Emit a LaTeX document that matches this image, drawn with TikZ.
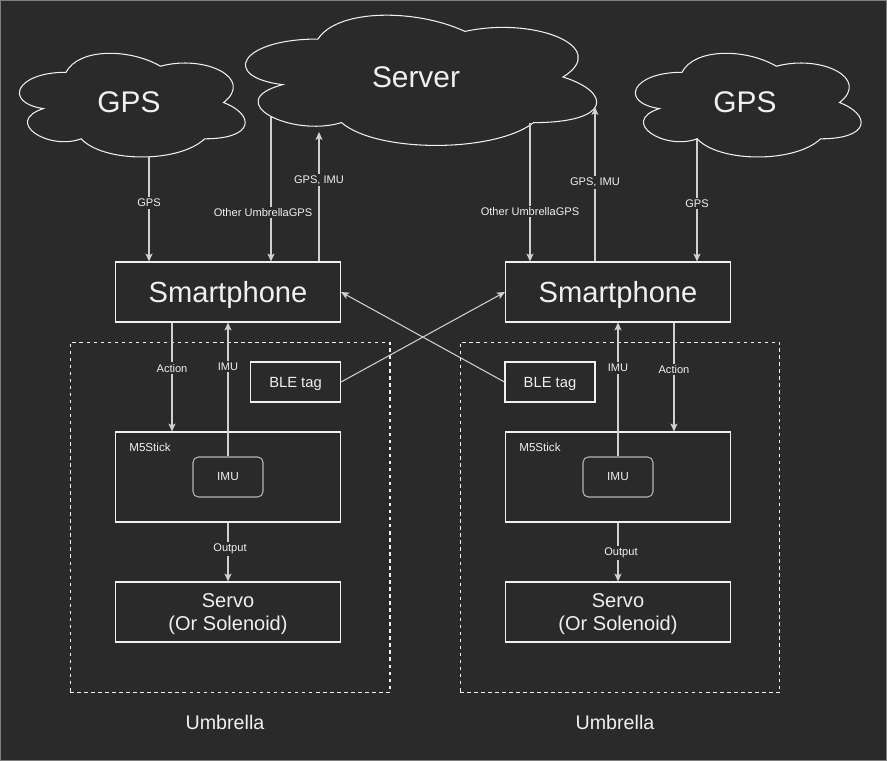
\documentclass[tikz,border=0pt]{standalone}
\usepackage{fontspec}
\setmainfont{Liberation Sans}
\usetikzlibrary{arrows.meta,positioning}

\definecolor{bgdark}{HTML}{2A2A2A}
\definecolor{inkwhite}{HTML}{F0F0F0}
\definecolor{linegray}{HTML}{D0D0D0}
\definecolor{imugray}{HTML}{B4B4B4}
\definecolor{framegray}{HTML}{808080}

\tikzset{
  box/.style={draw=inkwhite, line width=0.6pt, text=inkwhite, minimum width=4.5cm, minimum height=1.2cm},
  phonebox/.style={box, text depth=0pt, font=\fontsize{16.6}{19}\selectfont},
  stickbox/.style={box, minimum height=1.8cm},
  servobox/.style={box, align=center, text depth=0pt, font=\fontsize{11.4}{13}\selectfont},
  tagbox/.style={box, minimum width=1.8cm, minimum height=0.8cm, text depth=0pt, font=\fontsize{8.4}{10}\selectfont},
  imubox/.style={draw=imugray, line width=0.6pt, rounded corners=3pt, text=inkwhite, minimum width=1.4cm, minimum height=0.8cm, font=\fontsize{6.7}{8}\selectfont},
  umbbox/.style={draw=inkwhite, line width=0.6pt, dash pattern=on 2pt off 2pt, minimum width=6.4cm, minimum height=7cm},
  cloudline/.style={draw=inkwhite, line width=0.6pt},
  cloudtext/.style={text=inkwhite, font=\fontsize{17}{20}\selectfont},
  plain/.style={text=inkwhite, font=\fontsize{11.2}{13}\selectfont},
  small/.style={text=inkwhite, font=\fontsize{6.6}{8}\selectfont, inner sep=0pt},
  conn/.style={draw=linegray, line width=0.6pt, -{Stealth[length=4.5pt,width=4pt,inset=1pt]}},
  lbl/.style={fill=bgdark, text=inkwhite, font=\fontsize{6.3}{7}\selectfont, inner sep=1pt}
}

% drawio-like cloud: x, y, width, height (pixels)
\newcommand{\puffcloud}[4]{%
  \draw[cloudline] ({#1+0.25*#3},{#2+0.25*#4})
    .. controls ({#1+0.05*#3},{#2+0.25*#4}) and ({#1},{#2+0.5*#4}) .. ({#1+0.16*#3},{#2+0.55*#4})
    .. controls ({#1},{#2+0.66*#4}) and ({#1+0.18*#3},{#2+0.9*#4}) .. ({#1+0.31*#3},{#2+0.8*#4})
    .. controls ({#1+0.4*#3},{#2+#4}) and ({#1+0.7*#3},{#2+#4}) .. ({#1+0.8*#3},{#2+0.8*#4})
    .. controls ({#1+#3},{#2+0.8*#4}) and ({#1+#3},{#2+0.6*#4}) .. ({#1+0.875*#3},{#2+0.5*#4})
    .. controls ({#1+#3},{#2+0.3*#4}) and ({#1+0.8*#3},{#2+0.1*#4}) .. ({#1+0.625*#3},{#2+0.2*#4})
    .. controls ({#1+0.5*#3},{#2+0.05*#4}) and ({#1+0.3*#3},{#2+0.05*#4}) .. cycle;}

\begin{document}
\begin{tikzpicture}[x=0.02cm, y=-0.02cm]
  \fill[bgdark] (0,0) rectangle (887,761);
  \draw[framegray, line width=0.6pt] (0.5,0.5) rectangle (886.5,760.5);
  \useasboundingbox (0,0) rectangle (887,761);

  % clouds
  \puffcloud{3}{42}{252}{121}
  \puffcloud{220}{1}{392}{152}
  \puffcloud{619}{42}{252}{121}
  \node[cloudtext] (gpsL) at (129,102) {GPS};
  \node[cloudtext] (server) at (416,77) {Server};
  \node[cloudtext] (gpsR) at (745,102) {GPS};

  \coordinate (gpsLout) at (149,157);
  \coordinate (gpsRout) at (697,138);
  \coordinate (srvLout) at (271,117);
  \coordinate (srvLin) at (319,132);
  \coordinate (srvRout) at (530,123);
  \coordinate (srvRin) at (595,107);

  % umbrellas
  \node[umbbox] (umbL) at (230,517.5) {};
  \node[umbbox] (umbR) at (620,517.5) {};
  \node[plain] (umbLtxt) at (225,722) {Umbrella};
  \node[plain] (umbRtxt) at (615,722) {Umbrella};

  % left side
  \node[phonebox] (phoneL) at (228,292) {Smartphone};
  \node[tagbox] (bleL) at (295.5,382) {BLE tag};
  \node[stickbox] (stickL) at (228,477) {};
  \node[small, anchor=west] (stickLtxt) at (129,447) {M5Stick};
  \node[imubox] (imuL) at (228,477) {IMU};
  \node[servobox] (servoL) at (228,612) {Servo\\(Or Solenoid)};

  % right side
  \node[phonebox] (phoneR) at (618,292) {Smartphone};
  \node[tagbox] (bleR) at (550,382) {BLE tag};
  \node[stickbox] (stickR) at (618,477) {};
  \node[small, anchor=west] (stickRtxt) at (519,447) {M5Stick};
  \node[imubox] (imuR) at (618,477) {IMU};
  \node[servobox] (servoR) at (618,612) {Servo\\(Or Solenoid)};

  % connectors, left
  \draw[conn] (gpsLout) -- (phoneL.north -| gpsLout) node[lbl, pos=0.44] {GPS};
  \draw[conn] (srvLout) -- (phoneL.north -| srvLout) node[lbl, pos=0.66, xshift=-0.16cm] {Other UmbrellaGPS};
  \draw[conn] (phoneL.north -| srvLin) -- (srvLin) node[lbl, pos=0.63] {GPS, IMU};
  \draw[conn] (phoneL.south -| 172,0) -- (stickL.north -| 172,0) node[lbl, pos=0.42] {Action};
  \draw[conn] (imuL.north) -- (phoneL.south) node[lbl, pos=0.67] {IMU};
  \draw[conn] (stickL.south) -- (servoL.north) node[lbl, pos=0.45, xshift=0.04cm] {Output};

  % connectors, right
  \draw[conn] (gpsRout) -- (phoneR.north -| gpsRout) node[lbl, pos=0.53] {GPS};
  \draw[conn] (srvRout) -- (phoneR.north -| srvRout) node[lbl, pos=0.64] {Other UmbrellaGPS};
  \draw[conn] (phoneR.north -| srvRin) -- (srvRin) node[lbl, pos=0.51] {GPS, IMU};
  \draw[conn] (phoneR.south -| 674,0) -- (stickR.north -| 674,0) node[lbl, pos=0.43] {Action};
  \draw[conn] (imuR.north) -- (phoneR.south) node[lbl, pos=0.66] {IMU};
  \draw[conn] (stickR.south) -- (servoR.north) node[lbl, pos=0.52, xshift=0.06cm] {Output};

  % BLE tags cross over
  \draw[conn] (bleL.east) -- (phoneR.west);
  \draw[conn] (bleR.west) -- (phoneL.east);
\end{tikzpicture}
\end{document}
